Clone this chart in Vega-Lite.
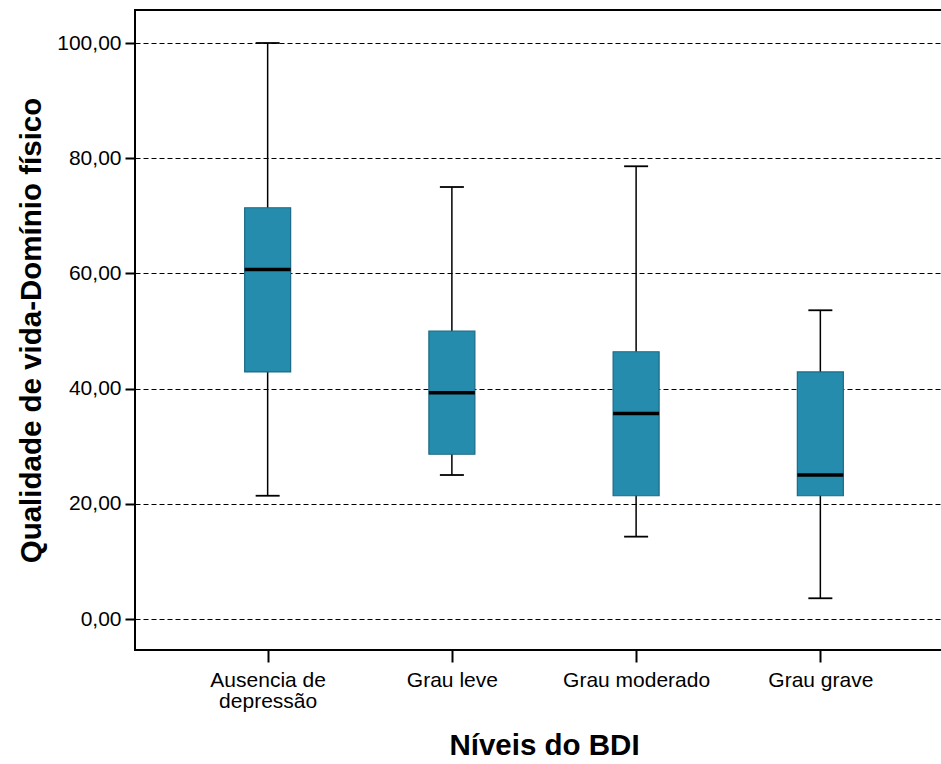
{
  "$schema": "https://vega.github.io/schema/vega-lite/v6.json",
  "width": 818,
  "height": 640,
  "autosize": {"type": "none"},
  "padding": {"left": 135, "top": 10, "right": 0, "bottom": 114},
  "background": "white",
  "config": {
    "font": "Liberation Sans",
    "view": {"stroke": "black", "strokeWidth": 2},
    "axis": {"domain": false, "labelFont": "Liberation Sans", "titleFont": "Liberation Sans"}
  },
  "data": {
    "values": [
      {"grupo": "Ausencia de depressão", "min": 21.4, "q1": 42.9, "median": 60.7, "q3": 71.4, "max": 100},
      {"grupo": "Grau leve", "min": 25.0, "q1": 28.6, "median": 39.3, "q3": 50.0, "max": 75.0},
      {"grupo": "Grau moderado", "min": 14.3, "q1": 21.4, "median": 35.7, "q3": 46.4, "max": 78.6},
      {"grupo": "Grau grave", "min": 3.6, "q1": 21.4, "median": 25.0, "q3": 42.9, "max": 53.6}
    ]
  },
  "encoding": {
    "x": {
      "field": "grupo",
      "type": "nominal",
      "sort": null,
      "scale": {"type": "point", "padding": 0.72},
      "axis": {
        "title": "Níveis do BDI",
        "titleFontSize": 29.5,
        "titleFontWeight": "bold",
        "titleColor": "black",
        "titlePadding": 20,
        "labelFontSize": 21,
        "labelColor": "black",
        "labelAngle": 0,
        "labelPadding": 7,
        "labelLineHeight": 21,
        "labelExpr": "datum.value == 'Ausencia de depressão' ? ['Ausencia de', 'depressão'] : datum.label",
        "tickSize": 12,
        "tickColor": "black",
        "tickWidth": 2,
        "grid": false
      }
    }
  },
  "layer": [
    {
      "mark": {"type": "rule", "color": "black", "strokeWidth": 1.5},
      "encoding": {
        "y": {
          "field": "min",
          "type": "quantitative",
          "scale": {"domain": [-5.38, 105.73], "nice": false, "zero": false},
          "axis": {
            "title": "Qualidade de vida-Domínio físico",
            "titleFontSize": 29.5,
            "titleFontWeight": "bold",
            "titleColor": "black",
            "titlePadding": 10,
            "values": [0, 20, 40, 60, 80, 100],
            "labelExpr": "replace(format(datum.value, '.2f'), '.', ',')",
            "labelFontSize": 21,
            "labelColor": "black",
            "labelPadding": 4,
            "tickSize": 10,
            "tickColor": "black",
            "tickWidth": 2,
            "grid": true,
            "gridColor": "black",
            "gridWidth": 1,
            "gridDash": [5, 3],
            "gridOpacity": 1
          }
        },
        "y2": {"field": "max"}
      }
    },
    {
      "mark": {"type": "bar", "size": 46, "fill": "#268cad", "stroke": "#1b6a84", "strokeWidth": 1.2},
      "encoding": {
        "y": {"field": "q1", "type": "quantitative"},
        "y2": {"field": "q3"}
      }
    },
    {
      "mark": {"type": "tick", "size": 46, "thickness": 3.5, "color": "black", "opacity": 1},
      "encoding": {"y": {"field": "median", "type": "quantitative"}}
    },
    {
      "mark": {"type": "tick", "size": 24, "thickness": 1.8, "color": "black", "opacity": 1},
      "encoding": {"y": {"field": "min", "type": "quantitative"}}
    },
    {
      "mark": {"type": "tick", "size": 24, "thickness": 1.8, "color": "black", "opacity": 1},
      "encoding": {"y": {"field": "max", "type": "quantitative"}}
    }
  ]
}
